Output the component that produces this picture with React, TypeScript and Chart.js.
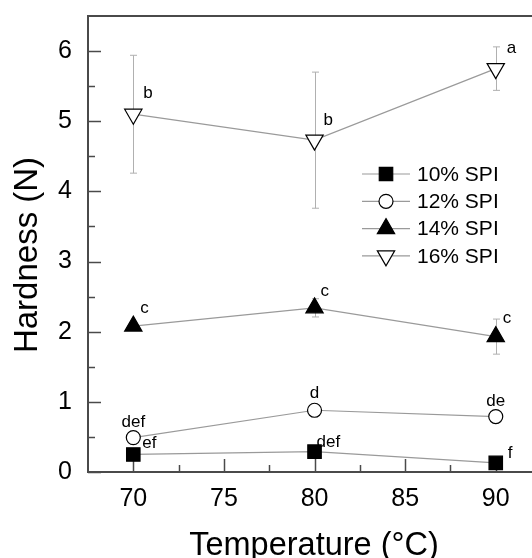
import React, { useEffect, useRef } from 'react';
import { Chart, registerables } from 'chart.js';

Chart.register(...registerables);

// Hardness of gels at three heating temperatures, four SPI levels
const temperatures = [70, 80, 90];
const spi10 = [0.25, 0.29, 0.13];
const spi12 = [0.49, 0.88, 0.79];
const spi14 = [2.08, 2.34, 1.93];
const spi16 = [5.1, 4.73, 5.75];
const sd10 = [0.03, 0.03, 0.02];
const sd12 = [0.06, 0.07, 0.03];
const sd14 = [0.04, 0.13, 0.25];
const sd16 = [0.84, 0.97, 0.31];
const letters10 = ['ef', 'def', 'f'];
const letters12 = ['def', 'd', 'de'];
const letters14 = ['c', 'c', 'c'];
const letters16 = ['b', 'b', 'a'];
const seriesNames = ['10% SPI', '12% SPI', '14% SPI', '16% SPI'];
const xTickValues = [70, 75, 80, 85, 90];
const yTickValues = [0, 1, 2, 3, 4, 5, 6];
const xTitle = 'Temperature (°C)';
const yTitle = 'Hardness (N)';

const seriesValues = [spi10, spi12, spi14, spi16];
const seriesSd = [sd10, sd12, sd14, sd16];
const seriesLetters = [letters10, letters12, letters14, letters16];

const FONT = '"Liberation Sans", Arial, Helvetica, sans-serif';
const LINE_COLOR = '#9a9a9a';
const ERR_COLOR = '#b0b0b0';
const FRAME_COLOR = '#4a4a4a';

// Marker look for each series
const markerStyles = [
  { pointStyle: 'rect', radius: 9.5, fill: '#000000', rotation: 0 },
  { pointStyle: 'circle', radius: 7, fill: '#ffffff', rotation: 0 },
  { pointStyle: 'triangle', radius: 10, fill: '#000000', rotation: 0 },
  { pointStyle: 'triangle', radius: 10, fill: '#ffffff', rotation: 180 },
];

// Where each significance letter sits relative to its point: [dx, dy, align]
const letterPlacement: [number, number, CanvasTextAlign][][] = [
  [[9, -6, 'left'], [2, -4.5, 'left'], [12, -4.5, 'left']],
  [[0, -11, 'center'], [0, -12, 'center'], [0, -10.5, 'center']],
  [[7, -13, 'left'], [6, -12, 'left'], [7, -13.5, 'left']],
  [[10, -16, 'left'], [9, -15.5, 'left'], [11, -15.5, 'left']],
];

function drawMarker(ctx: CanvasRenderingContext2D, idx: number, x: number, y: number) {
  const s = markerStyles[idx];
  ctx.save();
  ctx.fillStyle = s.fill;
  ctx.strokeStyle = '#000';
  ctx.lineWidth = 1.2;
  ctx.beginPath();
  if (s.pointStyle === 'rect') {
    const h = Math.SQRT1_2 * s.radius;
    ctx.rect(x - h, y - h, 2 * h, 2 * h);
  } else if (s.pointStyle === 'circle') {
    ctx.arc(x, y, s.radius, 0, Math.PI * 2);
  } else {
    let rad = (s.rotation * Math.PI) / 180;
    for (let k = 0; k < 3; k++) {
      const px = x + Math.sin(rad) * s.radius;
      const py = y - Math.cos(rad) * s.radius;
      if (k === 0) ctx.moveTo(px, py);
      else ctx.lineTo(px, py);
      rad += (2 * Math.PI) / 3;
    }
    ctx.closePath();
  }
  ctx.fill();
  ctx.stroke();
  ctx.restore();
}

const decorPlugin = {
  id: 'decor',
  beforeDatasetsDraw(chart: any) {
    const { ctx, chartArea } = chart;
    const xs = chart.scales.x;
    const ys = chart.scales.y;
    ctx.save();
    // inward tick marks
    ctx.strokeStyle = FRAME_COLOR;
    ctx.lineWidth = 1.5;
    for (let v = 0; v <= 6.01; v += 0.5) {
      const py = Math.round(ys.getPixelForValue(v)) + 0.5;
      const len = Number.isInteger(v) ? 13 : 7;
      ctx.beginPath();
      ctx.moveTo(chartArea.left, py);
      ctx.lineTo(chartArea.left + len, py);
      ctx.stroke();
    }
    for (let v = 70; v <= 90.01; v += 2.5) {
      const px = Math.round(xs.getPixelForValue(v)) + 0.5;
      const len = v % 5 === 0 ? 13 : 7;
      ctx.beginPath();
      ctx.moveTo(px, chartArea.bottom);
      ctx.lineTo(px, chartArea.bottom - len);
      ctx.stroke();
    }
    // error bars
    ctx.strokeStyle = ERR_COLOR;
    ctx.lineWidth = 1;
    seriesValues.forEach((vals, i) => {
      vals.forEach((v, j) => {
        const sd = seriesSd[i][j];
        const px = Math.round(xs.getPixelForValue(temperatures[j])) + 0.5;
        const top = ys.getPixelForValue(v + sd);
        const bot = ys.getPixelForValue(v - sd);
        ctx.beginPath();
        ctx.moveTo(px, top);
        ctx.lineTo(px, bot);
        ctx.moveTo(px - 3.5, top);
        ctx.lineTo(px + 3.5, top);
        ctx.moveTo(px - 3.5, bot);
        ctx.lineTo(px + 3.5, bot);
        ctx.stroke();
      });
    });
    ctx.restore();
  },
  afterDraw(chart: any) {
    const { ctx, chartArea } = chart;
    const xs = chart.scales.x;
    const ys = chart.scales.y;
    ctx.save();
    // frame: left, bottom, top (right side runs off the canvas)
    ctx.strokeStyle = FRAME_COLOR;
    ctx.lineWidth = 2;
    ctx.beginPath();
    ctx.moveTo(chartArea.right + 2, chartArea.top);
    ctx.lineTo(chartArea.left, chartArea.top);
    ctx.lineTo(chartArea.left, chartArea.bottom);
    ctx.lineTo(chartArea.right + 2, chartArea.bottom);
    ctx.stroke();

    // axis titles
    ctx.fillStyle = '#000';
    ctx.font = `32.5px ${FONT}`;
    ctx.textAlign = 'center';
    ctx.textBaseline = 'alphabetic';
    ctx.fillText(xTitle, chartArea.left + 226, chart.height - 3);
    ctx.save();
    ctx.font = `33px ${FONT}`;
    ctx.translate(37, chartArea.top + 239);
    ctx.rotate(-Math.PI / 2);
    ctx.fillText(yTitle, 0, 0);
    ctx.restore();

    // significance letters
    ctx.font = `17px ${FONT}`;
    ctx.textBaseline = 'alphabetic';
    seriesValues.forEach((vals, i) => {
      vals.forEach((v, j) => {
        const [dx, dy, align] = letterPlacement[i][j];
        ctx.textAlign = align;
        ctx.fillText(
          seriesLetters[i][j],
          xs.getPixelForValue(temperatures[j]) + dx,
          ys.getPixelForValue(v) + dy
        );
      });
    });

    // legend
    const lx0 = chartArea.left + 274;
    const lx1 = chartArea.left + 322;
    const ly0 = chartArea.top + 158;
    const step = 27.3;
    seriesNames.forEach((name, i) => {
      const y = ly0 + i * step;
      ctx.strokeStyle = LINE_COLOR;
      ctx.lineWidth = 1.2;
      ctx.beginPath();
      ctx.moveTo(lx0, y);
      ctx.lineTo(lx1, y);
      ctx.stroke();
      drawMarker(ctx, i, (lx0 + lx1) / 2, y);
      ctx.fillStyle = '#000';
      ctx.font = `21px ${FONT}`;
      ctx.textAlign = 'left';
      ctx.textBaseline = 'middle';
      ctx.fillText(name, lx1 + 7, y + 1);
    });
    ctx.restore();
  },
};

export default function App() {
  const canvasRef = useRef<HTMLCanvasElement | null>(null);

  useEffect(() => {
    const canvas = canvasRef.current;
    if (!canvas) return;
    const datasets = seriesValues.map((vals, i) => ({
      label: seriesNames[i],
      data: vals.map((v, j) => ({ x: temperatures[j], y: v })),
      borderColor: LINE_COLOR,
      borderWidth: 1.2,
      backgroundColor: markerStyles[i].fill,
      pointStyle: markerStyles[i].pointStyle as any,
      pointRotation: markerStyles[i].rotation,
      pointRadius: markerStyles[i].radius,
      pointBackgroundColor: markerStyles[i].fill,
      pointBorderColor: '#000000',
      pointBorderWidth: 1.2,
      tension: 0,
      fill: false,
    }));

    const chart = new Chart(canvas, {
      type: 'line',
      data: { datasets },
      options: {
        animation: false,
        responsive: false,
        maintainAspectRatio: false,
        layout: { autoPadding: false, padding: { left: 0, top: 16, right: 0, bottom: 0 } },
        plugins: {
          legend: { display: false },
          tooltip: { enabled: false },
        },
        scales: {
          x: {
            type: 'linear',
            min: 67.5,
            max: 92,
            afterBuildTicks: (scale: any) => {
              scale.ticks = xTickValues.map((v) => ({ value: v }));
            },
            afterFit: (scale: any) => {
              scale.height = 86;
              scale.paddingLeft = 0;
              scale.paddingRight = 0;
            },
            grid: { display: false, drawTicks: false },
            border: { display: false },
            ticks: {
              color: '#000',
              padding: 0,
              maxRotation: 0,
              font: { family: FONT, size: 25, lineHeight: 2.14 },
            },
            title: { display: false },
          },
          y: {
            type: 'linear',
            min: 0,
            max: 6.5,
            afterBuildTicks: (scale: any) => {
              scale.ticks = yTickValues.map((v) => ({ value: v }));
            },
            afterFit: (scale: any) => {
              scale.width = 88;
              scale.paddingTop = 0;
              scale.paddingBottom = 0;
            },
            grid: { display: false, drawTicks: false },
            border: { display: false },
            ticks: {
              color: '#000',
              padding: 16,
              font: { family: FONT, size: 25, lineHeight: 1 },
            },
            title: { display: false },
          },
        },
      },
      plugins: [decorPlugin],
    });

    return () => {
      chart.destroy();
    };
  }, []);

  return (
    <div style={{ position: 'absolute', left: 0, top: 0, width: 532, height: 558, background: '#fff', overflow: 'hidden' }}>
      <canvas ref={canvasRef} width={532} height={558} />
    </div>
  );
}
